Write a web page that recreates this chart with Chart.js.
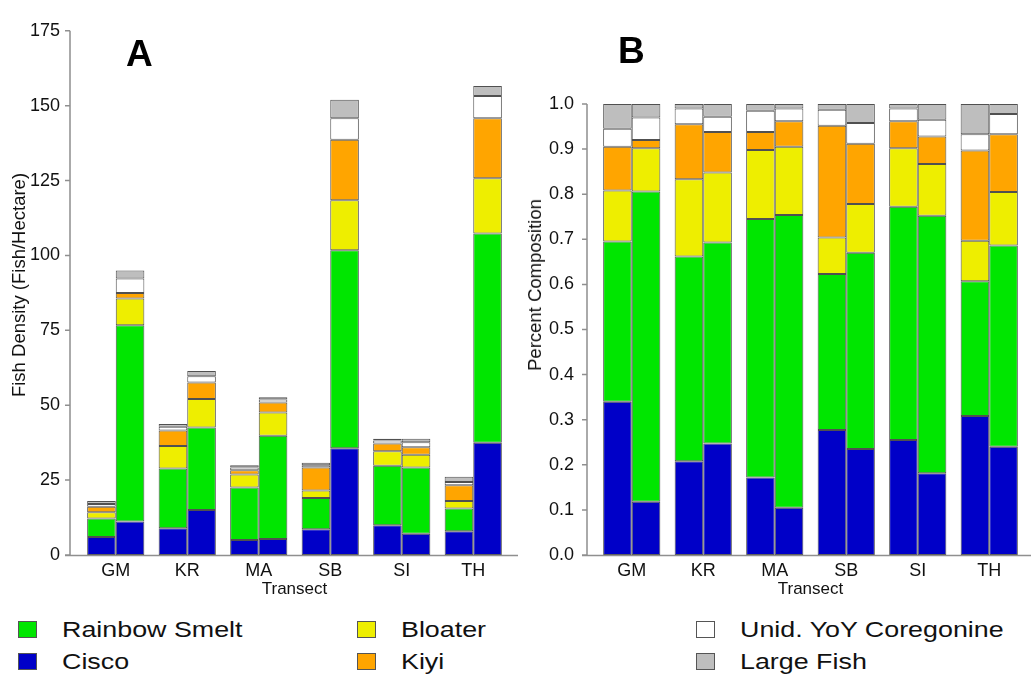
<!DOCTYPE html>
<html>
<head>
<meta charset="utf-8">
<script src="https://cdn.jsdelivr.net/npm/chart.js@4.4.1/dist/chart.umd.min.js"></script>
<style>
  body { margin: 0; background: #fff; width: 1031px; height: 676px; position: relative; overflow: hidden;
         font-family: "Liberation Sans", Arial, sans-serif; color: #111; }
  #wrapA { position: absolute; left: 0; top: 0; width: 520px; height: 600px; }
  #wrapB { position: absolute; left: 520px; top: 0; width: 511px; height: 600px; }
  .panel { position: absolute; font-weight: bold; font-size: 37px; line-height: 37px; color: #000; }
  .ytitle { position: absolute; font-size: 18.5px; line-height: 20px; white-space: nowrap;
            transform: translate(-50%, -50%) rotate(-90deg); }
  .box { position: absolute; width: 17px; height: 15px; border: 1px solid #555; }
  .txt { position: absolute; font-size: 22px; line-height: 22px; white-space: nowrap;
         transform: scaleX(1.22); transform-origin: left center; }
</style>
</head>
<body>
<div id="wrapA"><canvas id="chartA"></canvas></div>
<div id="wrapB"><canvas id="chartB"></canvas></div>
<div class="panel" style="left:126px; top:35px;">A</div>
<div class="panel" style="left:618px; top:32px;">B</div>
<div class="ytitle" style="left:19px; top:285px;">Fish Density (Fish/Hectare)</div>
<div class="ytitle" style="left:535px; top:285px;">Percent Composition</div>
<div id="legend"></div>

<script>
const transects = ['GM', 'KR', 'MA', 'SB', 'SI', 'TH'];
const species = ['Cisco', 'Rainbow Smelt', 'Bloater', 'Kiyi', 'Unid. YoY Coregonine', 'Large Fish'];
const colors = ['#0000C8', '#00E600', '#EEEE00', '#FFA500', '#FFFFFF', '#BEBEBE'];

// two bars per transect, in order GM1, GM2, KR1, KR2, ...
// A: fish density (fish/hectare), segment sizes
const densCisco   = [6.0, 11.2, 8.9, 15.0, 5.0, 5.3, 8.6, 35.6, 9.9, 7.1, 7.9, 37.5];
const densSmelt   = [6.2, 65.5, 20.0, 27.6, 17.5, 34.5, 10.4, 66.1, 19.9, 22.1, 7.6, 69.8];
const densBloater = [2.1, 8.9, 7.5, 9.5, 4.4, 7.8, 2.5, 16.7, 4.8, 4.3, 2.5, 18.5];
const densKiyi    = [1.8, 1.9, 5.2, 5.5, 1.4, 3.3, 7.7, 20.2, 2.6, 2.5, 5.3, 20.0];
const densYoY     = [0.9, 4.8, 1.2, 2.1, 0.9, 1.0, 0.8, 7.2, 1.0, 1.6, 1.1, 7.4];
const densLarge   = [1.0, 2.7, 0.9, 1.7, 0.8, 0.8, 0.8, 6.2, 0.6, 1.2, 1.7, 3.4];

// B: percent composition, segment sizes
const pctCisco   = [.340, .118, .208, .247, .172, .105, .277, .235, .255, .181, .308, .240];
const pctSmelt   = [.355, .688, .454, .446, .573, .649, .346, .435, .517, .571, .299, .446];
const pctBloater = [.113, .096, .171, .155, .153, .151, .081, .108, .130, .115, .090, .119];
const pctKiyi    = [.097, .018, .122, .090, .040, .057, .248, .134, .060, .061, .200, .128];
const pctYoY     = [.040, .050, .035, .034, .047, .028, .035, .046, .028, .037, .036, .045];
const pctLarge   = [.055, .030, .010, .028, .015, .010, .013, .042, .010, .035, .067, .022];

const densTicks = [0, 25, 50, 75, 100, 125, 150, 175];

Chart.defaults.font.family = '"Liberation Sans", Arial, sans-serif';
Chart.defaults.color = '#111';

function makeDatasets(series) {
  const sets = [];
  series.forEach((vals, s) => {
    ['first', 'second'].forEach((stack, k) => {
      sets.push({
        label: species[s],
        data: vals.filter((v, i) => i % 2 === k),
        stack: stack,
        backgroundColor: colors[s],
        borderColor: '#505050',
        borderWidth: 1,
        borderSkipped: false,
        barPercentage: 1,
        categoryPercentage: 0.8,
      });
    });
  });
  return sets;
}

// gray axis lines with outside tick marks, set a little away from the bars
const axisLines = {
  id: 'axisLines',
  afterDraw(chart, args, opts) {
    const {ctx, chartArea: a, scales: {y}} = chart;
    const ax = a.left - opts.gap;
    ctx.save();
    ctx.strokeStyle = '#8f8f8f';
    ctx.lineWidth = 1.5;
    ctx.beginPath();
    ctx.moveTo(ax, y.getPixelForValue(y.max));
    ctx.lineTo(ax, a.bottom);
    y.ticks.forEach(t => {
      const py = y.getPixelForValue(t.value);
      ctx.moveTo(ax - 5, py);
      ctx.lineTo(ax, py);
    });
    ctx.moveTo(ax - 5, a.bottom + 0.5);
    ctx.lineTo(a.right + opts.extend, a.bottom + 0.5);
    ctx.stroke();
    ctx.restore();
  }
};

function makeConfig(series, yOpts, pad, yWidth, gap, extend) {
  return {
    type: 'bar',
    data: { labels: transects, datasets: makeDatasets(series) },
    plugins: [axisLines],
    options: {
      responsive: true,
      maintainAspectRatio: false,
      animation: false,
      layout: { padding: pad },
      plugins: {
        legend: { display: false },
        tooltip: { enabled: false },
        axisLines: { gap: gap, extend: extend },
      },
      scales: {
        x: {
          stacked: true,
          grid: { display: false, drawTicks: false },
          border: { display: false },
          ticks: { font: { size: 18 }, padding: 5, color: '#111' },
          title: { display: true, text: 'Transect', font: { size: 17 }, padding: { top: 0, bottom: 0 } },
          afterFit(scale) { scale.height = 45; },
        },
        y: Object.assign({
          stacked: true,
          grid: { display: false, drawTicks: false },
          border: { display: false },
          afterFit(scale) { scale.width = yWidth; },
        }, yOpts),
      },
    },
  };
}

new Chart(document.getElementById('chartA'), makeConfig(
  [densCisco, densSmelt, densBloater, densKiyi, densYoY, densLarge],
  {
    min: 0, max: 175,
    afterBuildTicks(scale) { scale.ticks = densTicks.map(v => ({ value: v })); },
    ticks: { font: { size: 18 }, padding: 20, color: '#111' },
  },
  { top: 15, right: 11, bottom: 0, left: 0 }, 80, 10, 9
));

new Chart(document.getElementById('chartB'), makeConfig(
  [pctCisco, pctSmelt, pctBloater, pctKiyi, pctYoY, pctLarge],
  {
    min: 0, max: 1,
    ticks: { stepSize: 0.1, font: { size: 18 }, padding: 22, color: '#111',
             callback: v => Number(v).toFixed(1) },
  },
  { top: 104, right: 6, bottom: 0, left: 0 }, 76, 9, 6
));

// legend below both panels
const legendOrder = [1, 0, 2, 3, 4, 5];
const colX = [18, 357, 696];
const rowY = [621, 653];
const legend = document.getElementById('legend');
legendOrder.forEach((s, k) => {
  const x = colX[Math.floor(k / 2)];
  const y = rowY[k % 2];
  const box = document.createElement('div');
  box.className = 'box';
  box.style.left = x + 'px';
  box.style.top = y + 'px';
  box.style.background = colors[s];
  legend.appendChild(box);
  const txt = document.createElement('div');
  txt.className = 'txt';
  txt.style.left = (x + 44) + 'px';
  txt.style.top = (y - 2) + 'px';
  txt.textContent = species[s];
  legend.appendChild(txt);
});
</script>
</body>
</html>
